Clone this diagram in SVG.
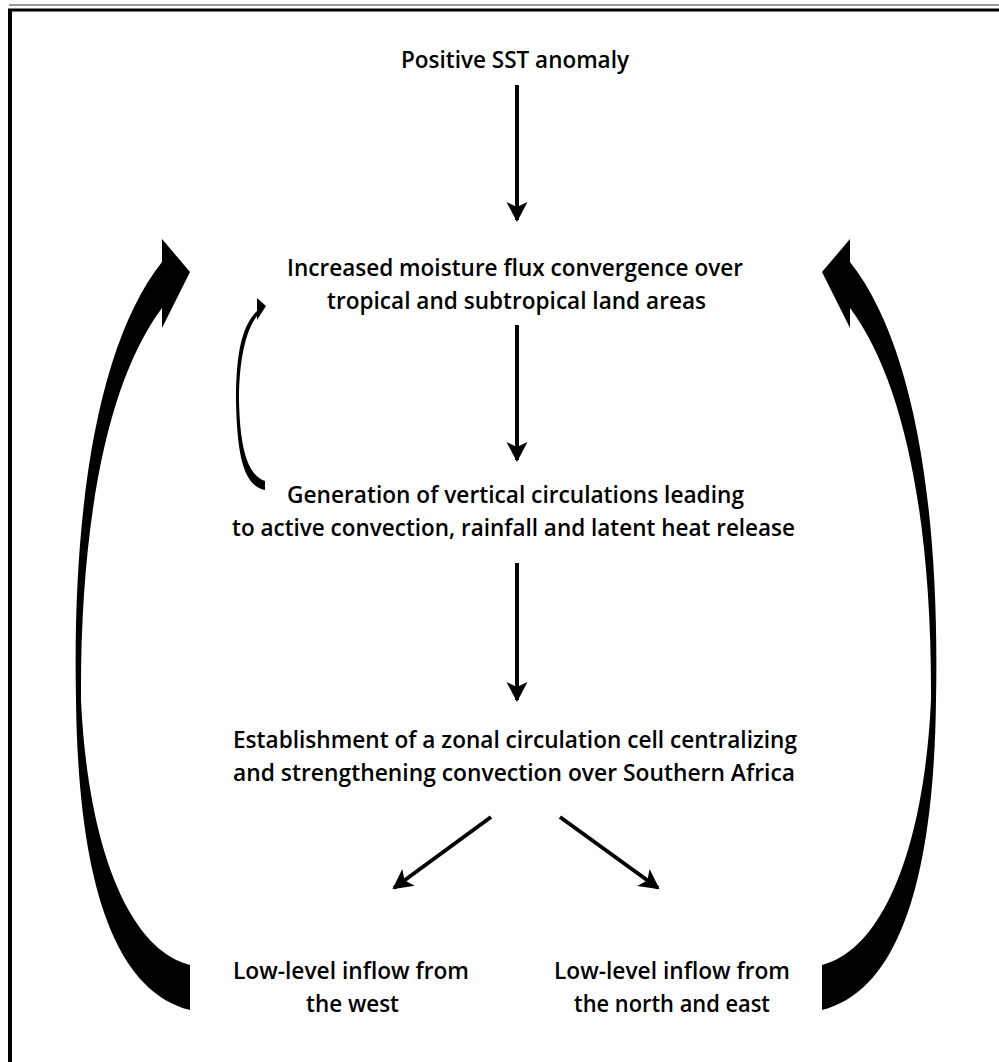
<svg xmlns="http://www.w3.org/2000/svg" width="999" height="1062" viewBox="0 0 999 1062">
<defs>
<style>
.t{font-family:"Open Sans","Noto Sans","Liberation Sans",sans-serif;font-weight:600;font-size:23px;fill:#000;}
.ln{stroke:#000;stroke-width:4;fill:none;}
</style>
<marker id="ah" viewBox="0 0 24 24" refX="20" refY="12" markerWidth="24" markerHeight="24" markerUnits="userSpaceOnUse" orient="auto">
<path d="M2,1.5 L22,12 L2,22.5 L7,12 Z" fill="#000"/>
</marker>
</defs>
<rect width="999" height="1062" fill="#fff"/>
<g id="frame">
<line x1="9" y1="5" x2="999" y2="5" stroke="#777" stroke-width="1.5"/>
<line x1="8" y1="10" x2="999" y2="10" stroke="#000" stroke-width="3"/>
<line x1="10" y1="9" x2="10" y2="1062" stroke="#000" stroke-width="4"/>
</g>
<g id="connectors">
<line class="ln" x1="517" y1="85" x2="517" y2="220" marker-end="url(#ah)"/>
<line class="ln" x1="517" y1="325" x2="517" y2="460" marker-end="url(#ah)"/>
<line class="ln" x1="517" y1="563" x2="517" y2="700" marker-end="url(#ah)"/>
<line class="ln" x1="491" y1="817" x2="394" y2="888" marker-end="url(#ah)"/>
<line class="ln" x1="560" y1="817" x2="658" y2="888" marker-end="url(#ah)"/>
<path id="loop-left" d="M190,1010 C110,990 78,870 76,700 C72,500 100,340 162,262 L162,239 L190,272 L162,328 L162,308 C108,380 80,520 81,700 C88,850 130,950 190,965 Z" fill="#000"/>
<path id="loop-right" transform="translate(1012,0) scale(-1,1)" d="M190,1010 C110,990 78,870 76,700 C72,500 100,340 162,262 L162,239 L190,272 L162,328 L162,308 C108,380 80,520 81,700 C88,850 130,950 190,965 Z" fill="#000"/>
<path id="loop-small" d="M265,490 C245,486 237,460 236,400 C236,350 243,325 257,311 L257,298 L266,306 L257,320 L257,316 C246,330 239,360 239,400 C240,450 248,475 265,481 Z" fill="#000"/>
</g>
<g id="n1"><text class="t" x="401" y="68" textLength="228" lengthAdjust="spacingAndGlyphs">Positive SST anomaly</text></g>
<g id="n2">
<text class="t" x="287" y="276" textLength="456" lengthAdjust="spacingAndGlyphs">Increased moisture flux convergence over</text>
<text class="t" x="327" y="309" textLength="379" lengthAdjust="spacingAndGlyphs">tropical and subtropical land areas</text>
</g>
<g id="n3">
<text class="t" x="287" y="503" textLength="457" lengthAdjust="spacingAndGlyphs">Generation of vertical circulations leading</text>
<text class="t" x="232" y="536" textLength="563" lengthAdjust="spacingAndGlyphs">to active convection, rainfall and latent heat release</text>
</g>
<g id="n4">
<text class="t" x="233" y="748" textLength="564" lengthAdjust="spacingAndGlyphs">Establishment of a zonal circulation cell centralizing</text>
<text class="t" x="233" y="781" textLength="562" lengthAdjust="spacingAndGlyphs">and strengthening convection over Southern Africa</text>
</g>
<g id="n5">
<text class="t" x="233" y="979" textLength="236" lengthAdjust="spacingAndGlyphs">Low-level inflow from</text>
<text class="t" x="306" y="1012" textLength="93" lengthAdjust="spacingAndGlyphs">the west</text>
</g>
<g id="n6">
<text class="t" x="554" y="979" textLength="236" lengthAdjust="spacingAndGlyphs">Low-level inflow from</text>
<text class="t" x="574" y="1012" textLength="196" lengthAdjust="spacingAndGlyphs">the north and east</text>
</g>
</svg>
